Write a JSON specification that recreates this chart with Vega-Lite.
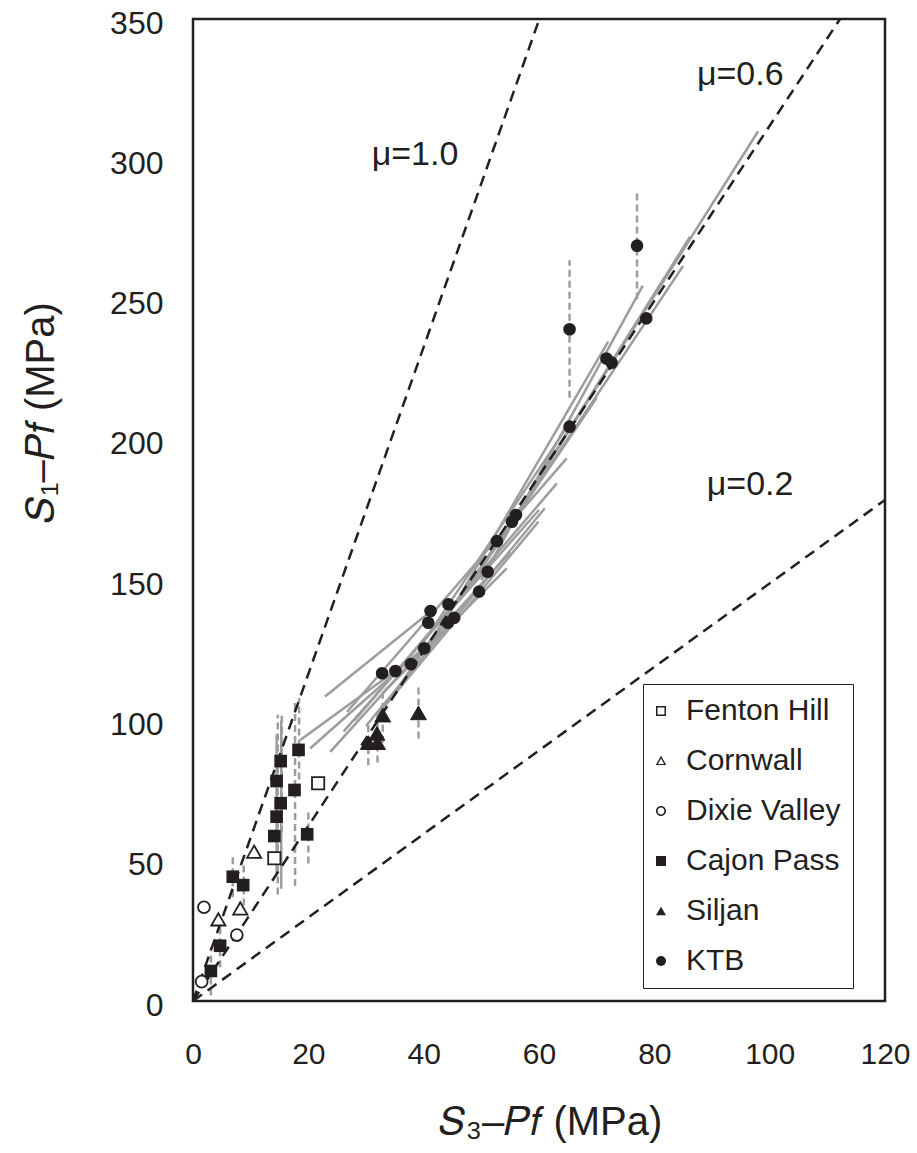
{
  "$schema": "https://vega.github.io/schema/vega-lite/v6.json",
  "width": 692,
  "height": 982,
  "autosize": {"type": "none"},
  "padding": {"left": 193, "top": 19, "right": 32, "bottom": 152},
  "background": "white",
  "config": {
    "view": {"stroke": "#231f20", "strokeWidth": 2.5},
    "axis": {"domain": false, "ticks": false, "grid": false, "labelFlush": false, "labelFont": "Liberation Sans", "labelFontSize": 30, "labelColor": "#231f20", "titleFont": "Liberation Sans", "titleFontSize": 40, "titleFontWeight": "normal", "titleColor": "#231f20"},
    "legend": {"labelFont": "Liberation Sans", "labelFontSize": 30, "labelColor": "#231f20", "strokeColor": "#231f20", "padding": 12, "rowPadding": 20, "symbolSize": 100, "labelOffset": 10, "symbolOffset": -9}
  },
  "datasets": {
    "friction": [
      {"mu": "1.0", "x": 0, "y": 0}, {"mu": "1.0", "x": 60.06, "y": 350},
      {"mu": "0.6", "x": 0, "y": 0}, {"mu": "0.6", "x": 112.2, "y": 350},
      {"mu": "0.2", "x": 0, "y": 0}, {"mu": "0.2", "x": 120, "y": 178.6}
    ],
    "paths": [
      {"id": 1, "x": 22.9, "y": 108.5}, {"id": 1, "x": 41.2, "y": 138.8},
      {"id": 2, "x": 18.6, "y": 93}, {"id": 2, "x": 40, "y": 125},
      {"id": 3, "x": 20.3, "y": 90}, {"id": 3, "x": 45, "y": 135},
      {"id": 4, "x": 23.8, "y": 88.8}, {"id": 4, "x": 55, "y": 160},
      {"id": 5, "x": 26.1, "y": 96}, {"id": 5, "x": 60, "y": 175},
      {"id": 6, "x": 26.7, "y": 103}, {"id": 6, "x": 64.8, "y": 193.4},
      {"id": 7, "x": 28, "y": 100}, {"id": 7, "x": 63.1, "y": 184.5},
      {"id": 8, "x": 30, "y": 98}, {"id": 8, "x": 61, "y": 175.6},
      {"id": 9, "x": 32, "y": 102}, {"id": 9, "x": 59.9, "y": 170.8},
      {"id": 10, "x": 33, "y": 110}, {"id": 10, "x": 54.4, "y": 154.2},
      {"id": 11, "x": 35, "y": 110}, {"id": 11, "x": 60, "y": 185},
      {"id": 12, "x": 40, "y": 128}, {"id": 12, "x": 65, "y": 205},
      {"id": 13, "x": 45, "y": 140}, {"id": 13, "x": 72, "y": 235},
      {"id": 14, "x": 50, "y": 150}, {"id": 14, "x": 78, "y": 255},
      {"id": 15, "x": 58, "y": 180}, {"id": 15, "x": 86.2, "y": 272.4},
      {"id": 16, "x": 55, "y": 170}, {"id": 16, "x": 98, "y": 310},
      {"id": 17, "x": 60, "y": 185}, {"id": 17, "x": 85, "y": 262},
      {"id": 18, "x": 48, "y": 148}, {"id": 18, "x": 70, "y": 215},
      {"id": 19, "x": 14.5, "y": 45}, {"id": 19, "x": 14.5, "y": 95},
      {"id": 20, "x": 15.3, "y": 40}, {"id": 20, "x": 15.3, "y": 100}
    ],
    "errors": [
      {"x": 3.1, "lo": 2, "hi": 19},
      {"x": 4.7, "lo": 12, "hi": 28},
      {"x": 6.9, "lo": 37, "hi": 52},
      {"x": 8.8, "lo": 34, "hi": 49},
      {"x": 14.7, "lo": 38, "hi": 102},
      {"x": 15.4, "lo": 60, "hi": 102},
      {"x": 17.7, "lo": 41, "hi": 107},
      {"x": 18.4, "lo": 75, "hi": 108},
      {"x": 20.0, "lo": 49, "hi": 68},
      {"x": 30.4, "lo": 84, "hi": 99},
      {"x": 32.0, "lo": 85, "hi": 103},
      {"x": 32.9, "lo": 92, "hi": 112},
      {"x": 39.1, "lo": 93.6, "hi": 113},
      {"x": 65.3, "lo": 215, "hi": 264},
      {"x": 77.0, "lo": 250, "hi": 289}
    ],
    "points": [
      {"site": "KTB", "x": 77.0, "y": 269.2}, {"site": "KTB", "x": 65.3, "y": 239.4},
      {"site": "KTB", "x": 78.6, "y": 243.3}, {"site": "KTB", "x": 71.7, "y": 229.0},
      {"site": "KTB", "x": 72.6, "y": 227.5}, {"site": "KTB", "x": 65.3, "y": 204.7},
      {"site": "KTB", "x": 56.0, "y": 173.2}, {"site": "KTB", "x": 55.3, "y": 170.8},
      {"site": "KTB", "x": 52.7, "y": 163.9}, {"site": "KTB", "x": 51.1, "y": 153.0},
      {"site": "KTB", "x": 49.6, "y": 145.9}, {"site": "KTB", "x": 44.3, "y": 141.4},
      {"site": "KTB", "x": 41.2, "y": 139.0}, {"site": "KTB", "x": 40.8, "y": 134.8},
      {"site": "KTB", "x": 45.3, "y": 136.6}, {"site": "KTB", "x": 44.2, "y": 134.8},
      {"site": "KTB", "x": 40.1, "y": 125.7}, {"site": "KTB", "x": 37.8, "y": 120.1},
      {"site": "KTB", "x": 35.1, "y": 117.6}, {"site": "KTB", "x": 32.8, "y": 116.8},
      {"site": "Siljan", "x": 32.9, "y": 101.9}, {"site": "Siljan", "x": 39.1, "y": 102.7},
      {"site": "Siljan", "x": 31.9, "y": 95.4}, {"site": "Siljan", "x": 30.4, "y": 92.1},
      {"site": "Siljan", "x": 32.0, "y": 92.1},
      {"site": "Cajon Pass", "x": 18.3, "y": 89.5}, {"site": "Cajon Pass", "x": 15.2, "y": 85.5},
      {"site": "Cajon Pass", "x": 14.5, "y": 78.4}, {"site": "Cajon Pass", "x": 17.6, "y": 75.2},
      {"site": "Cajon Pass", "x": 15.2, "y": 70.5}, {"site": "Cajon Pass", "x": 14.5, "y": 65.7},
      {"site": "Cajon Pass", "x": 14.1, "y": 58.8}, {"site": "Cajon Pass", "x": 19.8, "y": 59.4},
      {"site": "Cajon Pass", "x": 6.9, "y": 44.3}, {"site": "Cajon Pass", "x": 8.7, "y": 41.3},
      {"site": "Cajon Pass", "x": 4.7, "y": 19.7}, {"site": "Cajon Pass", "x": 3.1, "y": 10.7},
      {"site": "Fenton Hill", "x": 21.7, "y": 77.6}, {"site": "Fenton Hill", "x": 14.1, "y": 50.9},
      {"site": "Cornwall", "x": 10.6, "y": 53.2}, {"site": "Cornwall", "x": 8.2, "y": 33.0},
      {"site": "Cornwall", "x": 4.4, "y": 29.1},
      {"site": "Dixie Valley", "x": 1.9, "y": 33.4}, {"site": "Dixie Valley", "x": 7.6, "y": 23.5},
      {"site": "Dixie Valley", "x": 1.5, "y": 6.9}
    ],
    "labels": [
      {"text": "μ=1.0", "x": 38.5, "y": 301.5},
      {"text": "μ=0.6", "x": 94.9, "y": 330},
      {"text": "μ=0.2", "x": 96.6, "y": 184}
    ]
  },
  "encoding": {
    "x": {"field": "x", "type": "quantitative", "scale": {"domain": [0, 120], "nice": false}, "axis": {"values": [0, 20, 40, 60, 80, 100, 120], "labelPadding": 38, "titlePadding": 33, "titleX": 357, "title": "𝑆₃–𝑃𝑓 (MPa)"}},
    "y": {"field": "y", "type": "quantitative", "scale": {"domain": [0, 350], "nice": false}, "axis": {"values": [0, 50, 100, 150, 200, 250, 300, 350], "labelPadding": 30, "labelFontSize": 32, "labelOffset": 4, "titlePadding": 48, "titleY": 393, "title": "𝑆₁–𝑃𝑓 (MPa)"}}
  },
  "layer": [
    {
      "data": {"name": "paths"},
      "mark": {"type": "line", "color": "#9d9d9d", "strokeWidth": 2.5},
      "encoding": {"detail": {"field": "id", "type": "nominal"}}
    },
    {
      "data": {"name": "errors"},
      "mark": {"type": "rule", "color": "#9d9d9d", "strokeWidth": 2.5, "strokeDash": [7, 4]},
      "encoding": {"y": {"field": "lo", "type": "quantitative"}, "y2": {"field": "hi"}}
    },
    {
      "data": {"name": "friction"},
      "mark": {"type": "line", "color": "#231f20", "strokeWidth": 2.5, "strokeDash": [11, 7]},
      "encoding": {"detail": {"field": "mu", "type": "nominal"}}
    },
    {
      "data": {"name": "points"},
      "transform": [{"filter": "datum.site === 'Cajon Pass' || datum.site === 'KTB'"}],
      "mark": {"type": "point", "filled": true, "opacity": 1, "color": "#231f20", "size": 160},
      "encoding": {
        "shape": {"field": "site", "type": "nominal",
          "scale": {"domain": ["Fenton Hill", "Cornwall", "Dixie Valley", "Cajon Pass", "Siljan", "KTB"],
            "range": ["M-1,-1H1V1H-1Z M-0.7,-0.7V0.7H0.7V-0.7Z", "M0,-1.05L1.05,0.8L-1.05,0.8Z M0,-0.5L-0.62,0.58L0.62,0.58Z", "M-1,0A1,1,0,1,1,1,0A1,1,0,1,1,-1,0Z M-0.68,0A0.68,0.68,0,1,0,0.68,0A0.68,0.68,0,1,0,-0.68,0Z", "square", "triangle-up", "circle"]},
          "legend": {"title": null, "orient": "none", "legendX": 450, "legendY": 665, "symbolSize": 100, "symbolOffset": -9}}
      }
    },
    {
      "data": {"name": "points"},
      "transform": [{"filter": "datum.site === 'Fenton Hill'"}],
      "mark": {"type": "point", "shape": "square", "opacity": 1, "fill": "white", "stroke": "#231f20", "strokeWidth": 1.8, "size": 150}
    },
    {
      "data": {"name": "points"},
      "transform": [{"filter": "datum.site === 'Dixie Valley'"}],
      "mark": {"type": "point", "shape": "circle", "opacity": 1, "fill": "white", "stroke": "#231f20", "strokeWidth": 1.8, "size": 140}
    },
    {
      "data": {"name": "points"},
      "transform": [{"filter": "datum.site === 'Cornwall'"}],
      "mark": {"type": "point", "shape": "triangle-up", "opacity": 1, "fill": "white", "stroke": "#231f20", "strokeWidth": 1.8, "size": 200}
    },
    {
      "data": {"name": "points"},
      "transform": [{"filter": "datum.site === 'Siljan'"}],
      "mark": {"type": "point", "shape": "triangle-up", "filled": true, "opacity": 1, "fill": "#231f20", "stroke": "#231f20", "strokeWidth": 1, "size": 250}
    },
    {
      "data": {"name": "labels"},
      "mark": {"type": "text", "font": "Liberation Sans", "fontSize": 34, "color": "#231f20"},
      "encoding": {"text": {"field": "text"}}
    }
  ]
}
